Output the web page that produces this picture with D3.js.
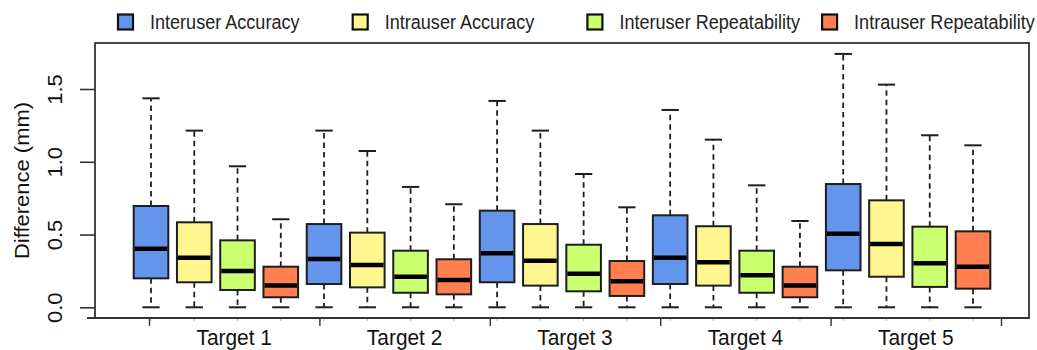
<!DOCTYPE html>
<html>
<head>
<meta charset="utf-8">
<script src="https://cdn.jsdelivr.net/npm/d3@7"></script>
<style>
  html, body { margin: 0; padding: 0; background: #fff; }
  svg { display: block; font-family: "Liberation Sans", Arial, sans-serif; }
</style>
</head>
<body>
<svg id="chart" width="1037" height="350"></svg>
<script>
// Group labels along the x axis
const targets = ["Target 1", "Target 2", "Target 3", "Target 4", "Target 5"];

// Measurement types (one box per type inside each target group)
const seriesNames = ["Interuser Accuracy", "Intrauser Accuracy", "Interuser Repeatability", "Intrauser Repeatability"];

// Five-number summaries per target: [lower whisker, Q1, median, Q3, upper whisker] in mm
const interuserAccuracy = [
  [0, 0.199, 0.403, 0.696, 1.436],
  [0, 0.160, 0.332, 0.572, 1.214],
  [0, 0.172, 0.371, 0.664, 1.418],
  [0, 0.160, 0.341, 0.632, 1.356],
  [0, 0.254, 0.506, 0.847, 1.741]
];
const intrauserAccuracy = [
  [0, 0.172, 0.341, 0.584, 1.214],
  [0, 0.137, 0.291, 0.513, 1.074],
  [0, 0.149, 0.320, 0.572, 1.214],
  [0, 0.149, 0.309, 0.557, 1.152],
  [0, 0.210, 0.435, 0.735, 1.530]
];
const interuserRepeatability = [
  [0, 0.119, 0.249, 0.460, 0.969],
  [0, 0.100, 0.210, 0.389, 0.827],
  [0, 0.110, 0.231, 0.430, 0.916],
  [0, 0.100, 0.220, 0.389, 0.838],
  [0, 0.140, 0.302, 0.554, 1.182]
];
const intrauserRepeatability = [
  [0, 0.069, 0.149, 0.279, 0.605],
  [0, 0.089, 0.188, 0.330, 0.708],
  [0, 0.078, 0.179, 0.318, 0.687],
  [0, 0.069, 0.149, 0.279, 0.593],
  [0, 0.128, 0.279, 0.522, 1.113]
];

// Y axis tick values
const yTicks = [0, 0.5, 1.0, 1.5];

const seriesValues = [interuserAccuracy, intrauserAccuracy, interuserRepeatability, intrauserRepeatability];
const fills = ["#6495ED", "#FFF68F", "#CAFF70", "#FF7F50"];

const svg = d3.select("#chart");
const frame = { left: 95, right: 1029, top: 43, bottom: 318 };
const textSqueeze = 0.9;

// Box position 1..20 across the plot
const x = d3.scaleLinear().domain([1, 20]).range([151, 973]);
const y = d3.scaleLinear().domain([0, 1.5]).range([307.3, 89]);
// Group separator ticks for the target labels
const gx = d3.scaleLinear().domain([0, targets.length]).range([149, 1001]);

const boxW = (x(2) - x(1)) * 0.8;
const capW = boxW * 0.5;

// Flatten into one record per box
const boxes = [];
targets.forEach((t, i) => {
  seriesValues.forEach((vals, j) => {
    const [lo, q1, med, q3, hi] = vals[i];
    boxes.push({ pos: i * seriesNames.length + j + 1, s: j, lo, q1, med, q3, hi });
  });
});

const g = svg.append("g");
const ink = "#1e1e1e";

// Whiskers (dashed) and staples
const wk = g.selectAll("g.box").data(boxes).join("g").attr("class", "box");
wk.append("line")
  .attr("x1", d => x(d.pos)).attr("x2", d => x(d.pos))
  .attr("y1", d => y(d.q3)).attr("y2", d => y(d.hi))
  .attr("stroke", ink).attr("stroke-width", 1.8).attr("stroke-dasharray", "5.5,4");
wk.append("line")
  .attr("x1", d => x(d.pos)).attr("x2", d => x(d.pos))
  .attr("y1", d => y(d.q1)).attr("y2", d => y(d.lo))
  .attr("stroke", ink).attr("stroke-width", 1.8).attr("stroke-dasharray", "5.5,4");
wk.append("line")
  .attr("x1", d => x(d.pos) - capW / 2).attr("x2", d => x(d.pos) + capW / 2)
  .attr("y1", d => y(d.hi)).attr("y2", d => y(d.hi))
  .attr("stroke", ink).attr("stroke-width", 2);
wk.append("line")
  .attr("x1", d => x(d.pos) - capW / 2).attr("x2", d => x(d.pos) + capW / 2)
  .attr("y1", d => y(d.lo)).attr("y2", d => y(d.lo))
  .attr("stroke", ink).attr("stroke-width", 2);
wk.append("rect")
  .attr("x", d => x(d.pos) - boxW / 2).attr("width", boxW)
  .attr("y", d => y(d.q3)).attr("height", d => y(d.q1) - y(d.q3))
  .attr("fill", d => fills[d.s]).attr("stroke", ink).attr("stroke-width", 2);
wk.append("line")
  .attr("x1", d => x(d.pos) - boxW / 2 + 1).attr("x2", d => x(d.pos) + boxW / 2 - 1)
  .attr("y1", d => y(d.med)).attr("y2", d => y(d.med))
  .attr("stroke", "#000").attr("stroke-width", 4.5);

// Plot frame
svg.append("rect")
  .attr("x", frame.left).attr("y", frame.top)
  .attr("width", frame.right - frame.left).attr("height", frame.bottom - frame.top)
  .attr("fill", "none").attr("stroke", "#333").attr("stroke-width", 1.8);

// Faint minor ticks at each box position
svg.append("g").selectAll("line").data(d3.range(1, 21)).join("line")
  .attr("x1", d => x(d)).attr("x2", d => x(d))
  .attr("y1", frame.bottom).attr("y2", frame.bottom + 3)
  .attr("stroke", "#bbb").attr("stroke-width", 1);

// X axis with group ticks and centred labels
const xAxis = d3.axisBottom(gx).tickValues(d3.range(0, targets.length + 1))
  .tickSize(8).tickFormat("");
const xg = svg.append("g").attr("transform", `translate(0,${frame.bottom})`).call(xAxis);
xg.select(".domain").attr("stroke", "#333").attr("stroke-width", 1.8)
  .attr("d", `M${frame.left - 8},0H${frame.right}`);
xg.selectAll(".tick line").attr("stroke", "#333").attr("stroke-width", 1.4);

svg.append("g").selectAll("text").data(targets).join("text")
  .attr("transform", (d, i) => `translate(${gx(i + 0.5)},345) scale(0.95,1)`)
  .attr("text-anchor", "middle").attr("font-size", 22).attr("fill", "#111")
  .text(d => d);

// Y axis
const yAxis = d3.axisLeft(y).tickValues(yTicks).tickSize(15).tickFormat(d3.format(".1f"));
const yg = svg.append("g").attr("transform", `translate(${frame.left},0)`).call(yAxis);
yg.select(".domain").remove();
yg.selectAll(".tick line").attr("stroke", "#333").attr("stroke-width", 1.6);
yg.selectAll(".tick text")
  .attr("x", 0).attr("y", 0).attr("dy", null)
  .attr("transform", `translate(-33,0) rotate(-90) scale(1,${textSqueeze})`)
  .attr("text-anchor", "middle").attr("font-size", 22)
  .attr("font-family", "'Liberation Sans', Arial, sans-serif").attr("fill", "#111");

// Y axis title
svg.append("text")
  .attr("transform", `translate(29,${(frame.top + frame.bottom) / 2}) rotate(-90) scale(1,${textSqueeze})`)
  .attr("text-anchor", "middle").attr("font-size", 22).attr("fill", "#111")
  .text("Difference (mm)");

// Legend
const legend = svg.append("g").selectAll("g").data(seriesNames).join("g")
  .attr("transform", (d, i) => `translate(${118 + i * 234.7},22)`);
legend.append("rect")
  .attr("x", 0).attr("y", -7.5).attr("width", 15).attr("height", 15)
  .attr("fill", (d, i) => fills[i]).attr("stroke", "#111").attr("stroke-width", 2.2);
legend.append("text")
  .attr("transform", `translate(32,7) scale(0.86,1)`)
  .attr("font-size", 21).attr("fill", "#222")
  .text(d => d);
</script>
</body>
</html>
